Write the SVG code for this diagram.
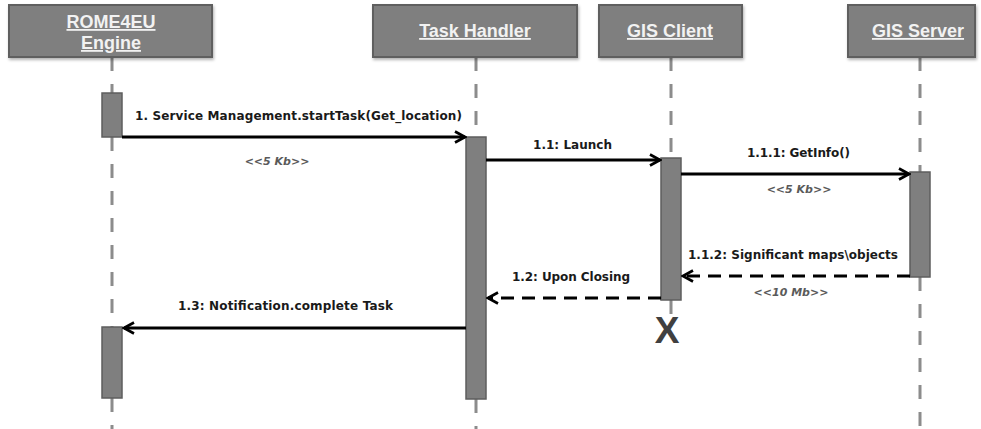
<svg xmlns="http://www.w3.org/2000/svg" width="981" height="429" viewBox="0 0 981 429">
<style>
.hdr{fill:#7f7f7f;stroke:#5e5e5e;stroke-width:2}
.ht{fill:#f2f2f2;font-family:"Liberation Sans",Arial,sans-serif;font-weight:bold;font-size:18px;text-anchor:middle;text-decoration:underline}
.life{stroke:#8c8c8c;stroke-width:3;stroke-dasharray:14 13;fill:none}
.act{fill:#7f7f7f;stroke:#5e5e5e;stroke-width:1.5}
.msg{stroke:#000;stroke-width:3;fill:none}
.ret{stroke:#000;stroke-width:3;fill:none;stroke-dasharray:13 8}
.lbl{font-family:"DejaVu Sans",Verdana,sans-serif;font-weight:bold;font-size:12px;fill:#1a1a1a}
.sz{font-family:"DejaVu Sans",Verdana,sans-serif;font-weight:bold;font-style:italic;font-size:11px;fill:#5a5a5a;text-anchor:middle}
</style>
<defs>
<filter id="sh" x="-10%" y="-20%" width="120%" height="150%">
<feDropShadow dx="1" dy="2" stdDeviation="1.5" flood-color="#000" flood-opacity="0.3"/>
</filter>
<marker id="arr" viewBox="0 0 14 14" refX="12" refY="7" markerWidth="14" markerHeight="14" orient="auto" markerUnits="userSpaceOnUse">
<path d="M2,1.5 L12,7 L2,12.5" fill="none" stroke="#000" stroke-width="2.6"/>
</marker>
</defs>

<g id="lifelines">
<path class="life" d="M112,57 V93 M112,137 V327 M112,398 V429"/>
<path class="life" d="M476,57 V137 M476,399 V429"/>
<path class="life" d="M671,57 V158 M671,300 V316"/>
<path class="life" d="M920,57 V172 M920,277 V429"/>
</g>

<g id="rome4eu">
<rect class="hdr" x="9" y="5" width="203" height="52" filter="url(#sh)"/>
<text class="ht" x="111" y="28">ROME4EU</text>
<text class="ht" x="111" y="49">Engine</text>
<rect class="act" x="102" y="93" width="20" height="44"/>
<rect class="act" x="102" y="327" width="20" height="71"/>
</g>

<g id="taskhandler">
<rect class="hdr" x="373" y="5" width="204" height="52" filter="url(#sh)"/>
<text class="ht" x="475" y="37">Task Handler</text>
<rect class="act" x="466" y="137" width="20" height="262"/>
</g>

<g id="gisclient">
<rect class="hdr" x="599" y="5" width="143" height="52" filter="url(#sh)"/>
<text class="ht" x="670" y="37">GIS Client</text>
<rect class="act" x="661" y="158" width="20" height="142"/>
<text x="667" y="343" font-family="Liberation Sans,Arial,sans-serif" font-weight="bold" font-size="37" fill="#404040" text-anchor="middle">X</text>
</g>

<g id="gisserver">
<rect class="hdr" x="848" y="5" width="127" height="52" filter="url(#sh)"/>
<text class="ht" x="918" y="37">GIS Server</text>
<rect class="act" x="910" y="172" width="20" height="105"/>
</g>

<g id="connectors">
<line class="msg" x1="122" y1="137" x2="465" y2="137" marker-end="url(#arr)"/>
<line class="msg" x1="486" y1="160" x2="660" y2="160" marker-end="url(#arr)"/>
<line class="msg" x1="681" y1="174" x2="909" y2="174" marker-end="url(#arr)"/>
<line class="ret" x1="910" y1="276" x2="683" y2="276" marker-end="url(#arr)"/>
<line class="ret" x1="661" y1="298" x2="488" y2="298" marker-end="url(#arr)"/>
<line class="msg" x1="466" y1="328" x2="124" y2="328" marker-end="url(#arr)"/>

<text class="lbl" x="135" y="120" textLength="327">1. Service Management.startTask(Get_location)</text>
<text class="sz" x="277" y="165">&lt;&lt;5 Kb&gt;&gt;</text>
<text class="lbl" x="533" y="149" textLength="79">1.1: Launch</text>
<text class="lbl" x="747" y="157" textLength="103">1.1.1: GetInfo()</text>
<text class="sz" x="799" y="193">&lt;&lt;5 Kb&gt;&gt;</text>
<text class="lbl" x="688" y="259" textLength="210">1.1.2: Significant maps\objects</text>
<text class="sz" x="791" y="296">&lt;&lt;10 Mb&gt;&gt;</text>
<text class="lbl" x="512" y="281" textLength="118">1.2: Upon Closing</text>
<text class="lbl" x="178" y="310" textLength="215">1.3: Notification.complete Task</text>
</g>
</svg>
